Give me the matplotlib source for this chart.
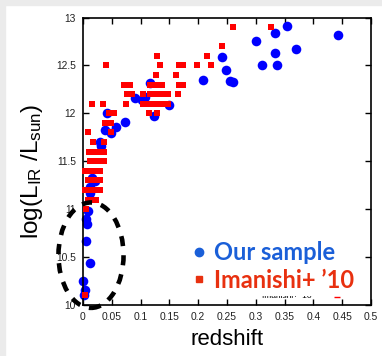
import matplotlib
matplotlib.use("Agg")
import matplotlib.pyplot as plt
from matplotlib.patches import Ellipse, Rectangle
from matplotlib.lines import Line2D
from matplotlib.ticker import FuncFormatter, MultipleLocator

plt.rcParams['font.family'] = ['Liberation Sans', 'DejaVu Sans']
plt.rcParams['mathtext.fontset'] = 'custom'
plt.rcParams['mathtext.rm'] = 'Liberation Sans'
plt.rcParams['mathtext.it'] = 'Liberation Sans'

# ---- data ----
our_z = [0.355, 0.334, 0.300, 0.443, 0.370, 0.333, 0.310, 0.337, 0.241, 0.248,
         0.256, 0.260, 0.209, 0.116, 0.090, 0.108, 0.102, 0.149, 0.041, 0.124,
         0.073, 0.057, 0.038, 0.049, 0.030, 0.032, 0.015, 0.021, 0.012, 0.012,
         0.009, 0.006, 0.0075, 0.006, 0.013, 0.000, 0.0035, 0.001]
our_lir = [12.91, 12.84, 12.76, 12.82, 12.67, 12.63, 12.50, 12.50, 12.59, 12.45,
           12.34, 12.33, 12.35, 12.32, 12.16, 12.17, 12.14, 12.09, 12.00, 11.97,
           11.91, 11.86, 11.83, 11.79, 11.70, 11.66, 11.33, 11.29, 11.23, 11.17,
           10.98, 10.90, 10.85, 10.67, 10.44, 10.25, 10.16, 10.10]

ima_rows = {
    12.9: [0.261, 0.327],
    12.7: [0.242],
    12.6: [0.129, 0.216],
    12.5: [0.040, 0.133, 0.167, 0.173, 0.198, 0.223],
    12.4: [0.127, 0.161],
    12.3: [0.072, 0.082, 0.116, 0.123, 0.130, 0.137, 0.167, 0.173],
    12.2: [0.077, 0.085, 0.105, 0.116, 0.123, 0.130, 0.137, 0.147, 0.165],
    12.1: [0.016, 0.035, 0.075, 0.105, 0.112, 0.119, 0.126, 0.133, 0.140, 0.148],
    12.0: [0.045, 0.054, 0.115, 0.129],
    11.9: [0.039, 0.049],
    11.8: [0.009, 0.048],
    11.7: [0.017, 0.036],
    11.6: [0.011, 0.018, 0.025, 0.032, 0.037],
    11.5: [0.013, 0.020, 0.027, 0.034, 0.037],
    11.4: [0.003, 0.010, 0.017, 0.024, 0.030],
    11.3: [0.009, 0.016, 0.023, 0.030],
    11.2: [0.003, 0.010, 0.017, 0.024, 0.030],
    11.1: [0.009, 0.016, 0.022],
    11.0: [0.006],
    10.1: [0.003],
}
ima_z = [z for y, zs in ima_rows.items() for z in zs]
ima_lir = [y for y, zs in ima_rows.items() for z in zs]

xlim = (0, 0.5)
ylim = (10, 13)

# ---- figure ----
fig = plt.figure(figsize=(3.82, 3.56), dpi=100)
fig.patches.append(Rectangle((0, 1 - 5 / 356), 1, 5 / 356, transform=fig.transFigure,
                             color='#ebebeb', zorder=0))
fig.patches.append(Rectangle((0, 0), 5 / 382, 1, transform=fig.transFigure,
                             color='#ebebeb', zorder=0))

ax = fig.add_axes([83 / 382, 1 - 305 / 356, 288 / 382, 287.5 / 356])
ax.set_xlim(*xlim)
ax.set_ylim(*ylim)

ax.scatter(ima_z, ima_lir, marker='s', s=14, color='#ff0000', linewidths=0,
           zorder=3, clip_on=False)
ax.scatter(our_z, our_lir, marker='o', s=48, color='#0000ff', linewidths=0,
           zorder=2, clip_on=False)

ax.xaxis.set_major_locator(MultipleLocator(0.05))
ax.yaxis.set_major_locator(MultipleLocator(0.5))
fmt = FuncFormatter(lambda v, p: ('%.2f' % v).rstrip('0').rstrip('.'))
ax.xaxis.set_major_formatter(fmt)
ax.yaxis.set_major_formatter(fmt)
ax.tick_params(direction='in', length=4, width=1, top=True, right=True,
               labelsize=7.4, colors='black', labelcolor='#222222')
ax.tick_params(axis='x', pad=5)
ax.tick_params(axis='y', pad=5)
for sp in ax.spines.values():
    sp.set_linewidth(1.2)

ax.set_xlabel('redshift', fontsize=16, labelpad=5)
ax.set_ylabel(r'log(L$_{\mathrm{IR}}$ /L$_{\mathrm{sun}}$)', fontsize=17.5)
ax.yaxis.set_label_coords(-0.133, 0.465)

# dashed ellipse highlighting low-z sources
ell = Ellipse((0.0139, 10.52), 0.113, 1.10, fill=False, edgecolor='black',
              linewidth=3.3, linestyle=(0, (2.2, 2.0)), clip_on=False, zorder=5)
ax.add_patch(ell)

# remnant of original key (mostly hidden)
ax.text(0.311, 10.073, "Imanishi+ '10", fontsize=6, color='black', va='baseline',
        zorder=1)
ax.plot([0.441], [10.085], marker='_', markersize=4, mew=1, color='#ff0000',
        ls='', zorder=1)
ax.add_patch(Rectangle((0.30, 10 + (305 - 296) / 96), 0.19, 0.6,
                       facecolor='white', edgecolor='none', zorder=1.5))

handles = [Line2D([], [], marker='o', color='#1a5fd8', ls='', markersize=6),
           Line2D([], [], marker='s', color='#e8300f', ls='', markersize=4.5)]
leg = ax.legend(handles, ['Our sample', "Imanishi+ \u201910"], loc='upper left',
                bbox_to_anchor=((192 - 83) / 288, (305 - 241) / 287.5),
                frameon=False, borderpad=0, borderaxespad=0, handlelength=0.6,
                handletextpad=0.35, labelspacing=0.2,
                prop={'family': 'Lato', 'weight': 'bold', 'size': 17})
leg.set_zorder(6)
for t, c in zip(leg.get_texts(), ['#1a5fd8', '#e8300f']):
    t.set_color(c)

fig.savefig('out.png', dpi=100)
